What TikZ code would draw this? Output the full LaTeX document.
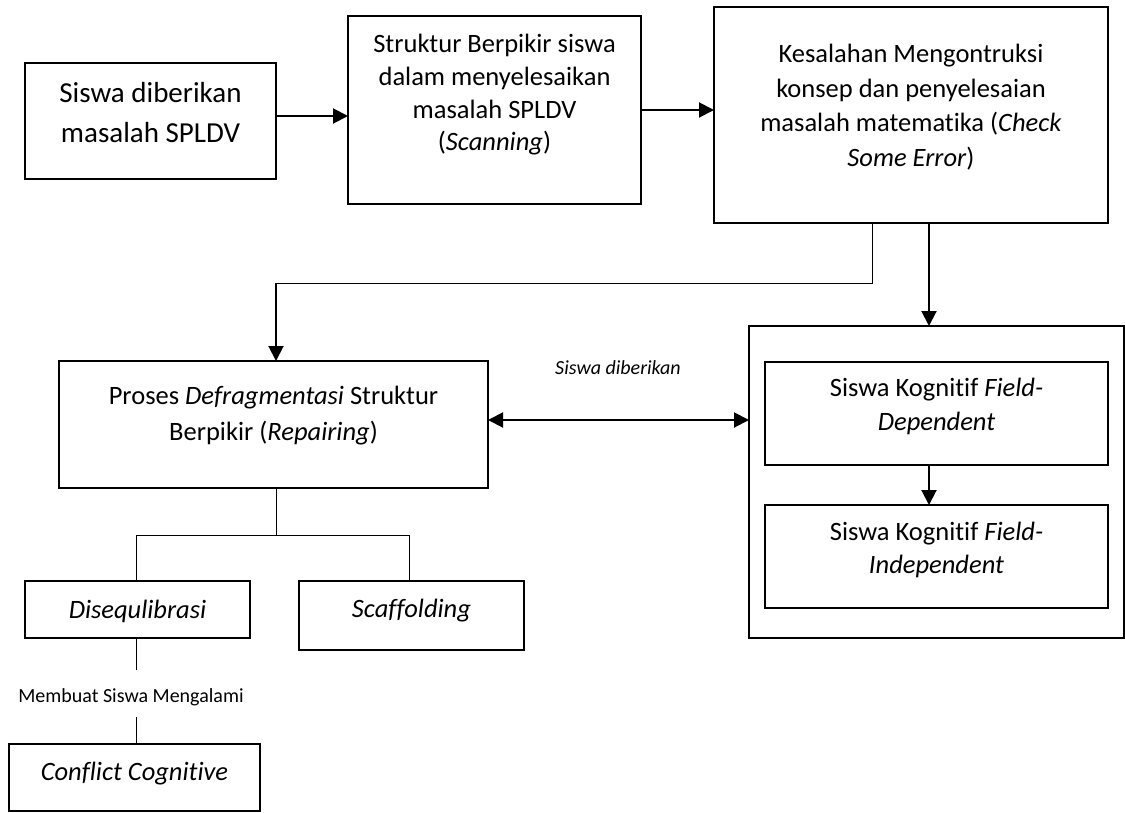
\documentclass[tikz,border=0pt]{standalone}
\usepackage{fontspec}
\setmainfont{Carlito}[Ligatures=NoCommon]
\usetikzlibrary{arrows.meta}
\begin{document}
\begin{tikzpicture}[x=1pt,y=-1pt,
  box/.style={draw, line width=1.8pt, inner sep=0pt, outer sep=0pt, rectangle},
  txt/.style={align=center, inner sep=0pt, font=\fontsize{26.5}{34.5}\selectfont},
  note/.style={inner sep=0pt, font=\fontsize{20}{24}\selectfont},
  thinline/.style={line width=1pt},
  arr/.style={line width=2pt, -{Triangle[length=15pt,width=15pt]}},
  darr/.style={line width=2pt, {Triangle[length=15pt,width=15pt]}-{Triangle[length=15pt,width=15pt]}}]
\useasboundingbox (0,0) rectangle (1125,812);

% frames
\node[box, minimum width=251pt, minimum height=116pt] (A) at (150.5,121) {};
\node[box, minimum width=293pt, minimum height=188pt] (B) at (494.5,110) {};
\node[box, minimum width=394pt, minimum height=216pt] (C) at (911,115) {};
\node[box, minimum width=429pt, minimum height=127pt] (D) at (273.5,424.5) {};
\node[box, minimum width=375pt, minimum height=312pt] (E) at (936.5,482) {};
\node[box, minimum width=343pt, minimum height=103pt] (F1) at (936.5,413.5) {};
\node[box, minimum width=343pt, minimum height=103pt] (F2) at (936.5,556.5) {};
\node[box, minimum width=225pt, minimum height=57pt] (G) at (137.5,609.5) {};
\node[box, minimum width=225pt, minimum height=69pt] (H) at (411.5,615.5) {};
\node[box, minimum width=251pt, minimum height=67pt] (I) at (134.5,777.5) {};

% texts
\node[txt, font=\fontsize{29}{39.5}\selectfont] (At) at (150.5,112.5) {Siswa diberikan\\masalah SPLDV};
\node[txt, font=\fontsize{26.5}{32.7}\selectfont] (Bt) at (494.5,95) {Struktur Berpikir siswa\\dalam menyelesaikan\\masalah SPLDV\\(\textit{Scanning})};
\node[txt] (Ct) at (911,107) {Kesalahan Mengontruksi\\konsep dan penyelesaian\\masalah matematika (\textit{Check}\\\textit{Some Error})};
\node[txt, font=\fontsize{26.5}{36}\selectfont] (Dt) at (273.5,416) {Proses \textit{Defragmentasi} Struktur\\Berpikir (\textit{Repairing})};
\node[txt, font=\fontsize{26.5}{34}\selectfont] (F1t) at (936.5,406) {Siswa Kognitif \textit{Field-}\\\textit{Dependent}};
\node[txt, font=\fontsize{26.5}{33}\selectfont] (F2t) at (936.5,549.5) {Siswa Kognitif \textit{Field-}\\\textit{Independent}};
\node[txt] (Gt) at (137.5,611) {\textit{Disequlibrasi}};
\node[txt] (Ht) at (411.5,611) {\textit{Scaffolding}};
\node[txt] (It) at (134.5,774) {\textit{Conflict Cognitive}};
\node[note] (lab1) at (618,368) {\textit{Siswa diberikan}};
\node[note] (lab2) at (131,697) {Membuat Siswa Mengalami};

% connectors
\draw[arr] (A.east |- 0,116) -- (B.west |- 0,116);
\draw[arr] (B.east |- 0,110) -- (C.west |- 0,110);
\coordinate (bend) at (276,283);
\draw[thinline] (C.south -| 872,0) |- (bend);
\draw[arr] (bend) -- (D.north -| bend);
\draw[arr] (C.south -| 929,0) -- (E.north -| 929,0);
\draw[arr] (F1.south -| 929,0) -- (F2.north -| 929,0);
\draw[darr] (D.east |- 0,420) -- (E.west |- 0,420);

% branches below the repairing step
\coordinate (fork) at (276,535);
\coordinate (forkL) at (136,535);
\coordinate (forkR) at (409,535);
\draw[thinline] (D.south -| fork) -- (fork);
\draw[thinline] (G.north -| forkL) -- (forkL) -- (forkR) -- (H.north -| forkR);
\coordinate (capA) at (136,670);
\coordinate (capB) at (136,717);
\draw[thinline] (G.south -| capA) -- (capA);
\draw[thinline] (capB) -- (I.north -| capB);
\end{tikzpicture}
\end{document}
